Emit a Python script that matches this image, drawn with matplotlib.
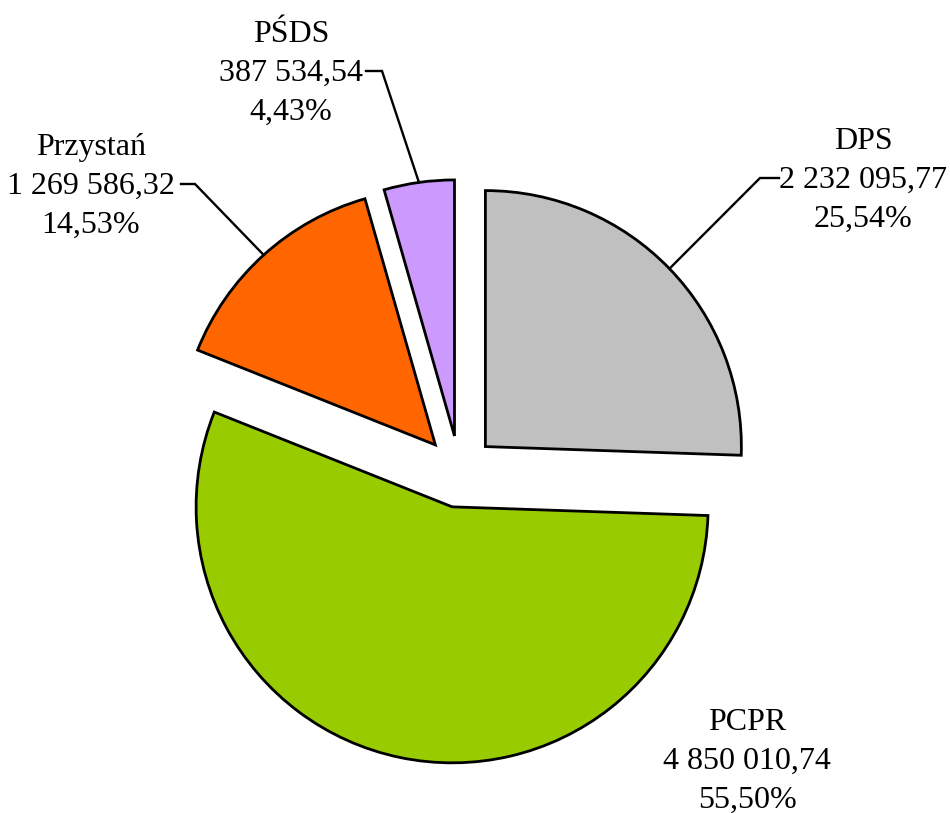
import matplotlib
matplotlib.use("Agg")
import matplotlib.pyplot as plt
import numpy as np

categories = ["DPS", "PCPR", "Przystań", "PŚDS"]
values = [2232095.77, 4850010.74, 1269586.32, 387534.54]
value_labels = ["2 232 095,77", "4 850 010,74", "1 269 586,32", "387 534,54"]
pct_labels = ["25,54%", "55,50%", "14,53%", "4,43%"]
colors = ["#C0C0C0", "#99CC00", "#FF6600", "#CC99FF"]

W, H = 950, 813
fig = plt.figure(figsize=(W / 100, H / 100), dpi=100)
ax = fig.add_axes([0, 0, 1, 1])

cx, cy = 459.5, H - 471.6
R = 256
expl = 36

wedges, _ = ax.pie(values, colors=colors, startangle=90, counterclock=False,
                   radius=R, center=(cx, cy), explode=[expl] * len(values),
                   wedgeprops=dict(edgecolor="black", linewidth=2.0))
ax.set_xlim(0, W)
ax.set_ylim(0, H)
ax.set_aspect("auto")
ax.axis("off")

font = dict(family=["Liberation Serif", "DejaVu Serif"], fontsize=23)

# label text centers (pixels from top-left)
label_pos = {
    "DPS": (863, 180),
    "PCPR": (747, 761),
    "Przystań": (91, 186),
    "PŚDS": (291, 73),
}
# leader start (horizontal stub) for labels that have a leader
leader = {
    "DPS": (779, 760),
    "Przystań": (181, 195),
    "PŚDS": (366, 382),
}

for w, cat, vl, pl in zip(wedges, categories, value_labels, pct_labels):
    lx, ly = label_pos[cat]
    ax.text(lx, H - ly, f"{cat}\n{vl}\n{pl}", ha="center", va="center",
            linespacing=1.45, **font)
    if cat in leader:
        x0, x1 = leader[cat]
        thm = np.deg2rad(0.5 * (w.theta1 + w.theta2))
        wx, wy = w.center
        px = wx + R * np.cos(thm)
        py = wy + R * np.sin(thm)
        y_line = H - ly + 2
        ax.plot([x0, x1, px], [y_line, y_line, py], color="black", lw=1.7,
                solid_joinstyle="miter")

fig.savefig("out.png", dpi=100)
